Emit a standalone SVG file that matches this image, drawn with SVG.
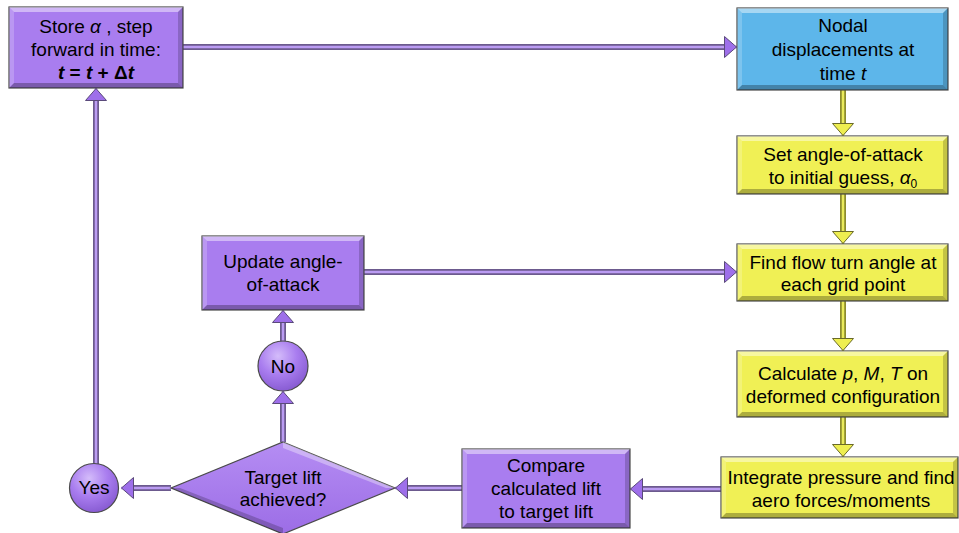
<svg xmlns="http://www.w3.org/2000/svg" width="959" height="533" viewBox="0 0 959 533">
<style>
text{font-family:"Liberation Sans",Arial,sans-serif;font-size:19px;fill:#000;text-anchor:middle}
.it{font-style:italic}
.box{stroke:#4a4a4a;stroke-width:1.2}
.pu{fill:#A97DEF}.bl{fill:#5DB6EA}.ye{fill:#F0F055}
.bt{fill:#fff;opacity:.45}.bbm{fill:#000;opacity:.28}.bll{fill:#fff;opacity:.2}.brr{fill:#000;opacity:.18}
.po{fill:none;stroke:#6c5a8e;stroke-width:6}
.pi{fill:none;stroke:#bb9cf3;stroke-width:2.5}
.yo{fill:none;stroke:#8c8c2e;stroke-width:6}
.yi{fill:none;stroke:#eaea5c;stroke-width:2.5}
</style>
<defs>
<marker id="ap" viewBox="0 0 13 22" refX="13" refY="11" markerWidth="13" markerHeight="22" markerUnits="userSpaceOnUse" orient="auto">
<path d="M0.5,0.5 L12.5,11 L0.5,21.5 Z" fill="#9E6FEA" stroke="#5a4a7a" stroke-width="1"/>
</marker>
<marker id="ay" viewBox="0 0 13 22" refX="13" refY="11" markerWidth="13" markerHeight="22" markerUnits="userSpaceOnUse" orient="auto">
<path d="M0.5,0.5 L12.5,11 L0.5,21.5 Z" fill="#EEEE50" stroke="#6a6a2a" stroke-width="1"/>
</marker>
<radialGradient id="cg" cx="0.4" cy="0.3" r="0.75">
<stop offset="0" stop-color="#D4BCFA"/>
<stop offset="0.5" stop-color="#A97DEF"/>
<stop offset="1" stop-color="#8458CF"/>
</radialGradient>
<linearGradient id="dg" x1="0" y1="0" x2="0" y2="1">
<stop offset="0" stop-color="#B58DF3"/>
<stop offset="1" stop-color="#9C6DE6"/>
</linearGradient>
</defs>

<g id="connectors">
<path class="po" d="M183,47 H725"/><path class="pi" d="M183,47 H737" marker-end="url(#ap)"/>
<path class="yo" d="M843,90 V124"/><path class="yi" d="M843,90 V136" marker-end="url(#ay)"/>
<path class="yo" d="M843,194 V232"/><path class="yi" d="M843,194 V244" marker-end="url(#ay)"/>
<path class="yo" d="M843,301 V339"/><path class="yi" d="M843,301 V351" marker-end="url(#ay)"/>
<path class="yo" d="M843,417 V445"/><path class="yi" d="M843,417 V457" marker-end="url(#ay)"/>
<path class="po" d="M721,489 H642"/><path class="pi" d="M721,489 H630" marker-end="url(#ap)"/>
<path class="po" d="M462,488 H407"/><path class="pi" d="M462,488 H395" marker-end="url(#ap)"/>
<path class="po" d="M171,488 H133"/><path class="pi" d="M171,488 H121" marker-end="url(#ap)"/>
<path class="po" d="M283,442 V403"/><path class="pi" d="M283,442 V391" marker-end="url(#ap)"/>
<path class="po" d="M283,341 V322"/><path class="pi" d="M283,341 V310" marker-end="url(#ap)"/>
<path class="po" d="M364,272 H725"/><path class="pi" d="M364,272 H737" marker-end="url(#ap)"/>
<path class="po" d="M96,464 V100"/><path class="pi" d="M96,464 V88" marker-end="url(#ap)"/>
</g>

<g id="store">
<rect class="box pu" x="9" y="7" width="174" height="81"/>
<polygon class="bt" points="9,7 183,7 178,12 14,12"/>
<polygon class="bbm" points="9,88 183,88 178,83 14,83"/>
<polygon class="bll" points="9,7 14,12 14,83 9,88"/>
<polygon class="brr" points="183,7 178,12 178,83 183,88"/>
<text x="96" y="33">Store <tspan class="it">α</tspan> , step</text>
<text x="96" y="56">forward in time:</text>
<text x="96" y="79" font-weight="bold"><tspan class="it">t</tspan> = <tspan class="it">t</tspan> + Δ<tspan class="it">t</tspan></text>
</g>

<g id="nodal">
<rect class="box bl" x="737" y="8" width="211" height="82"/>
<polygon class="bt" points="737,8 948,8 943,13 742,13"/>
<polygon class="bbm" points="737,90 948,90 943,85 742,85"/>
<polygon class="bll" points="737,8 742,13 742,85 737,90"/>
<polygon class="brr" points="948,8 943,13 943,85 948,90"/>
<text x="843" y="32">Nodal</text>
<text x="843" y="56">displacements at</text>
<text x="843" y="80">time <tspan class="it">t</tspan></text>
</g>

<g id="setaoa">
<rect class="box ye" x="737" y="136" width="211" height="58"/>
<polygon class="bt" points="737,136 948,136 943,141 742,141"/>
<polygon class="bbm" points="737,194 948,194 943,189 742,189"/>
<polygon class="bll" points="737,136 742,141 742,189 737,194"/>
<polygon class="brr" points="948,136 943,141 943,189 948,194"/>
<text x="843" y="161">Set angle-of-attack</text>
<text x="843" y="184">to initial guess, <tspan class="it">α</tspan><tspan font-size="12" dy="4">0</tspan></text>
</g>

<g id="findflow">
<rect class="box ye" x="737" y="244" width="211" height="57"/>
<polygon class="bt" points="737,244 948,244 943,249 742,249"/>
<polygon class="bbm" points="737,301 948,301 943,296 742,296"/>
<polygon class="bll" points="737,244 742,249 742,296 737,301"/>
<polygon class="brr" points="948,244 943,249 943,296 948,301"/>
<text x="843" y="269">Find flow turn angle at</text>
<text x="843" y="291">each grid point</text>
</g>

<g id="calculate">
<rect class="box ye" x="737" y="351" width="211" height="66"/>
<polygon class="bt" points="737,351 948,351 943,356 742,356"/>
<polygon class="bbm" points="737,417 948,417 943,412 742,412"/>
<polygon class="bll" points="737,351 742,356 742,412 737,417"/>
<polygon class="brr" points="948,351 943,356 943,412 948,417"/>
<text x="843" y="380">Calculate <tspan class="it">p</tspan>, <tspan class="it">M</tspan>, <tspan class="it">T</tspan> on</text>
<text x="843" y="403">deformed configuration</text>
</g>

<g id="integrate">
<rect class="box ye" x="721" y="457" width="237" height="61"/>
<polygon class="bt" points="721,457 958,457 953,462 726,462"/>
<polygon class="bbm" points="721,518 958,518 953,513 726,513"/>
<polygon class="bll" points="721,457 726,462 726,513 721,518"/>
<polygon class="brr" points="958,457 953,462 953,513 958,518"/>
<text x="841" y="484">Integrate pressure and find</text>
<text x="841" y="507">aero forces/moments</text>
</g>

<g id="compare">
<rect class="box pu" x="462" y="449" width="168" height="79"/>
<polygon class="bt" points="462,449 630,449 625,454 467,454"/>
<polygon class="bbm" points="462,528 630,528 625,523 467,523"/>
<polygon class="bll" points="462,449 467,454 467,523 462,528"/>
<polygon class="brr" points="630,449 625,454 625,523 630,528"/>
<text x="546" y="472">Compare</text>
<text x="546" y="495">calculated lift</text>
<text x="546" y="518">to target lift</text>
</g>

<g id="decision">
<polygon points="283,442 395,488 283,534 171,488" fill="url(#dg)" stroke="#4a4a4a" stroke-width="1.2"/>
<polygon points="283,442 395,488 386,488 283,448" fill="#fff" opacity="0.35"/>
<polygon points="283,534 171,488 180,488 283,528" fill="#000" opacity="0.2"/>
<text x="283" y="484">Target lift</text>
<text x="283" y="506">achieved?</text>
</g>

<g id="yes">
<circle cx="94" cy="488" r="24.5" fill="url(#cg)" stroke="#4a4a4a" stroke-width="1.2"/>
<text x="94" y="494">Yes</text>
</g>

<g id="no">
<circle cx="283" cy="366" r="25" fill="url(#cg)" stroke="#4a4a4a" stroke-width="1.2"/>
<text x="283" y="373">No</text>
</g>

<g id="update">
<rect class="box pu" x="202" y="236" width="162" height="74"/>
<polygon class="bt" points="202,236 364,236 359,241 207,241"/>
<polygon class="bbm" points="202,310 364,310 359,305 207,305"/>
<polygon class="bll" points="202,236 207,241 207,305 202,310"/>
<polygon class="brr" points="364,236 359,241 359,305 364,310"/>
<text x="283" y="268">Update angle-</text>
<text x="283" y="291">of-attack</text>
</g>
</svg>
